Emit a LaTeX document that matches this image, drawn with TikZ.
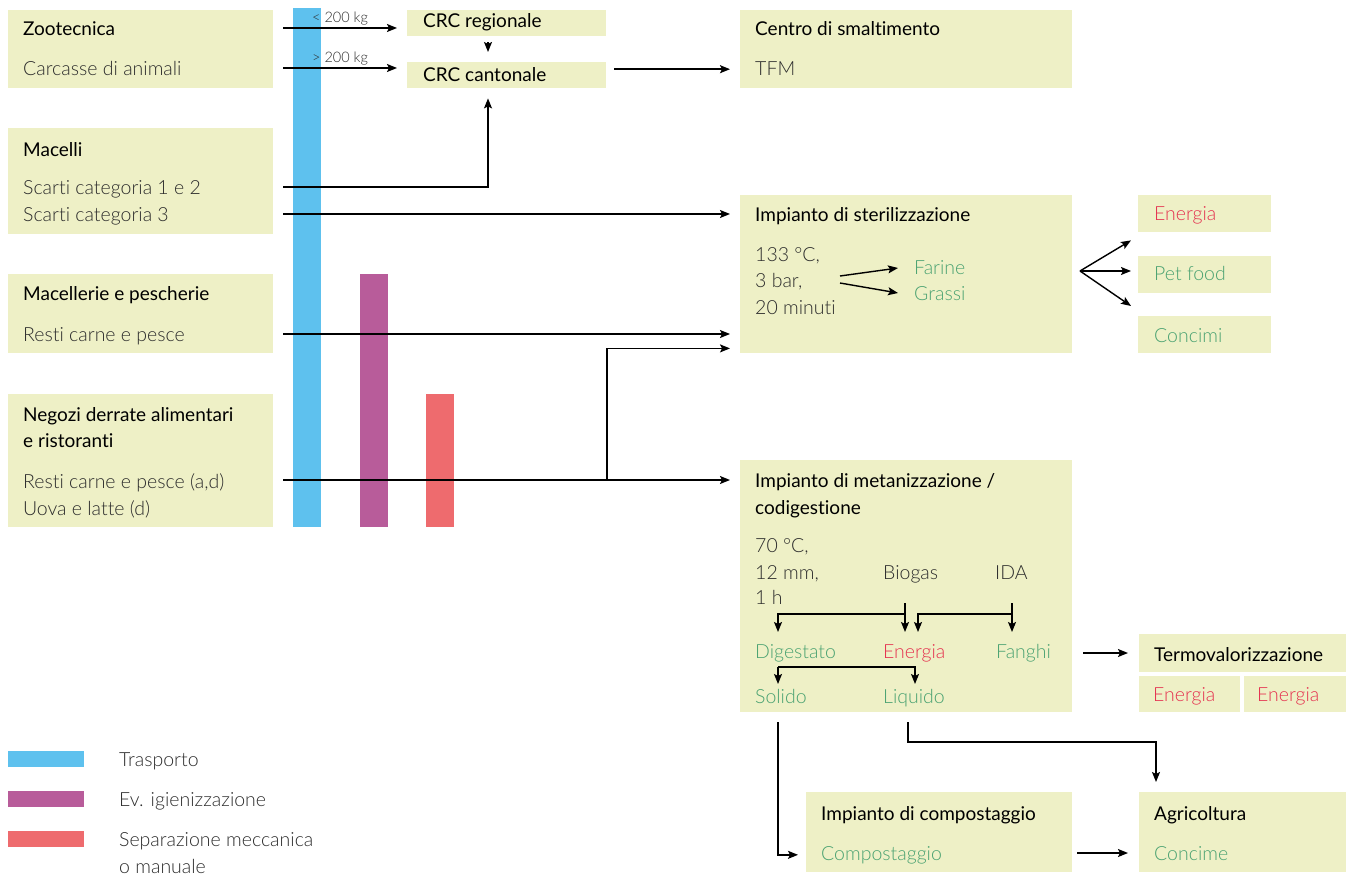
\documentclass[tikz,border=0pt]{standalone}
\usepackage{fontspec}
\setmainfont{Lato}[Ligatures=NoCommon]
\IfFontExistsTF{Lato Light}{\newfontfamily\lightlato{Lato Light}[Ligatures=NoCommon]}{\newfontfamily\lightlato{Lato}[Ligatures=NoCommon]}
\usetikzlibrary{arrows.meta}

\definecolor{boxfill}{HTML}{EEF0C6}
\definecolor{trasblue}{HTML}{5EC1EE}
\definecolor{igienpurple}{HTML}{B85C9A}
\definecolor{seppink}{HTML}{EE6B6E}
\definecolor{outgreen}{HTML}{4AA271}
\definecolor{outred}{HTML}{E5314F}
\definecolor{txtgray}{HTML}{2C2C2C}

\newcommand\bodyfont{\lightlato\fontsize{19.5}{22}\selectfont}
\newcommand\headfont{\fontsize{19}{22}\selectfont}
\newcommand\smallfont{\lightlato\fontsize{14.5}{16}\selectfont}

\begin{document}
\begin{tikzpicture}[x=1pt,y=-1pt,
  box/.style={fill=boxfill,inner sep=0pt,anchor=north west},
  txt/.style={anchor=base west,inner sep=0pt,font=\bodyfont,text=txtgray},
  head/.style={anchor=base west,inner sep=0pt,font=\headfont,text=black},
  grn/.style={txt,text=outgreen},
  rd/.style={txt,text=outred},
  small/.style={txt,font=\smallfont},
  flow/.style={-{Stealth[length=10pt,width=8pt,inset=2pt]},line width=1.4pt},
  ]
  \path[use as bounding box] (0,0) rectangle (1349,877);

  % boxes
  \node[box,minimum width=265,minimum height=78]  (zoo)     at (8,10)    {};
  \node[box,minimum width=265,minimum height=106] (mac)     at (8,128)   {};
  \node[box,minimum width=265,minimum height=79]  (mcp)     at (8,274)   {};
  \node[box,minimum width=265,minimum height=133] (neg)     at (8,394)   {};
  \node[box,minimum width=199,minimum height=26]  (crcreg)  at (407,10)  {};
  \node[box,minimum width=199,minimum height=26]  (crccan)  at (407,62)  {};
  \node[box,minimum width=332,minimum height=78]  (centro)  at (740,10)  {};
  \node[box,minimum width=332,minimum height=158] (steril)  at (740,195) {};
  \node[box,minimum width=133,minimum height=37]  (energia) at (1138,195) {};
  \node[box,minimum width=133,minimum height=37]  (petfood) at (1138,256) {};
  \node[box,minimum width=133,minimum height=37]  (concimi) at (1138,316) {};
  \node[box,minimum width=332,minimum height=252] (metan)   at (740,460) {};
  \node[box,minimum width=207,minimum height=38]  (termo)   at (1139,634) {};
  \node[box,minimum width=101,minimum height=36]  (termoA)  at (1139,676) {};
  \node[box,minimum width=102,minimum height=36]  (termoB)  at (1244,676) {};
  \node[box,minimum width=266,minimum height=80]  (compost) at (806,792) {};
  \node[box,minimum width=207,minimum height=80]  (agri)    at (1139,792) {};

  % bars
  \fill[trasblue]    (293,8)   rectangle (321,527);
  \fill[igienpurple] (360,274) rectangle (388,527);
  \fill[seppink]     (426,394) rectangle (454,527);

  % left column
  \node[head] (zooT)  at (23,36)  {Zootecnica};
  \node[txt]  (carc)  at (23,76)  {Carcasse di animali};
  \node[head] (macT)  at (23,157) {Macelli};
  \node[txt]  (sc12)  at (23,195) {Scarti categoria 1 e 2};
  \node[txt]  (sc3)   at (23,222) {Scarti categoria 3};
  \node[head] (mcpT)  at (23,301) {Macellerie e pescherie};
  \node[txt]  (resti) at (23,341) {Resti carne e pesce};
  \node[head] (negT)  at (23,421) {Negozi derrate alimentari};
  \node[head] (negT2) at (23,447) {e ristoranti};
  \node[txt]  (restiB) at (23,488) {Resti carne e pesce (a,d)};
  \node[txt]  (uova)  at (23,515) {Uova e latte (d)};

  \node[small] (lt200) at (312,23) {< 200 kg};
  \node[small] (gt200) at (312,63) {> 200 kg};

  % right part
  \node[head] (crcregT) at (423,28)  {CRC regionale};
  \node[head] (crccanT) at (423,82)  {CRC cantonale};
  \node[head] (centroT) at (755,36)  {Centro di smaltimento};
  \node[txt]  (tfm)     at (755,76)  {TFM};

  \node[head] (sterilT) at (755,222) {Impianto di sterilizzazione};
  \node[txt]  (c133)    at (755,262) {133 °C,};
  \node[txt]  (bar3)    at (755,288) {3 bar,};
  \node[txt]  (min20)   at (755,315) {20 minuti};
  \node[grn]  (farine)  at (914,275) {Farine};
  \node[grn]  (grassi)  at (914,301) {Grassi};
  \node[rd]   (energiaT) at (1154,221) {Energia};
  \node[grn]  (petfoodT) at (1154,281) {Pet food};
  \node[grn]  (concimiT) at (1154,342) {Concimi};

  \node[head] (metanT)  at (755,487) {Impianto di metanizzazione /};
  \node[head] (metanT2) at (755,514) {codigestione};
  \node[txt]  (c70)     at (755,552) {70 °C,};
  \node[txt]  (mm12)    at (755,579) {12 mm,};
  \node[txt]  (h1)      at (755,604) {1 h};
  \node[txt]  (biogas)  at (883,579) {Biogas};
  \node[txt]  (ida)     at (995,579) {IDA};
  \node[grn]  (digest)  at (755,658) {Digestato};
  \node[rd]   (energiaM) at (883,658) {Energia};
  \node[grn]  (fanghi)  at (996,658) {Fanghi};
  \node[grn]  (solido)  at (755,703) {Solido};
  \node[grn]  (liquido) at (883,703) {Liquido};

  \node[head] (termoT)  at (1154,661) {Termovalorizzazione};
  \node[rd]   (termoAT) at (1153,701) {Energia};
  \node[rd]   (termoBT) at (1257,701) {Energia};
  \node[head] (compostT) at (821,820) {Impianto di compostaggio};
  \node[grn]  (compostS) at (821,860) {Compostaggio};
  \node[head] (agriT)   at (1154,820) {Agricoltura};
  \node[grn]  (concime) at (1154,860) {Concime};

  % legend
  \foreach \y/\c/\t in {751/trasblue/Trasporto,791/igienpurple/Ev. igienizzazione,831/seppink/Separazione meccanica}{
    \fill[\c] (8,\y) rectangle (84,\y+16);
    \node[txt] (leg\y) at (119,\y+15) {\t};
  }
  \node[txt] (legman) at (119,873) {o manuale};

  % connectors
  \coordinate (zooA) at (283,28);
  \coordinate (zooB) at (283,68);
  \coordinate (macA) at (283,187);
  \coordinate (macB) at (283,214);
  \coordinate (mcpA) at (283,334);
  \coordinate (negA) at (283,480);
  \coordinate (negB) at (607,480);
  \coordinate (tfmA) at ([xshift=8pt,yshift=6pt]crccan.east);
  \draw[flow] (zooA) -- ([xshift=-10pt]crcreg.west |- zooA);
  \draw[flow] (zooB) -- ([xshift=-10pt]crccan.west |- zooB);
  \draw[flow] ([xshift=81pt,yshift=-6pt]crcreg.south west) -- ([xshift=81pt,yshift=10pt]crccan.north west);
  \draw[flow] (macA) -| ([xshift=81pt,yshift=-10pt]crccan.south west);
  \draw[flow] (macB) -- ([xshift=-10pt]steril.west |- macB);
  \draw[flow] (tfmA) -- ([xshift=-10pt]centro.west |- tfmA);
  \draw[flow] (mcpA) -- ([xshift=-10pt]steril.west |- mcpA);
  \draw[flow] (negA) -- ([xshift=-10pt]metan.west |- negA);
  \draw[flow] (negB) |- ([xshift=-10pt,yshift=5pt]steril.south west);

  \coordinate (stA) at (1080,271);
  \draw[flow] (stA) -- ([xshift=-7pt,yshift=-8pt]energia.south west);
  \draw[flow] (stA) -- ([xshift=-7pt]petfood.west |- stA);
  \draw[flow] (stA) -- ([xshift=-7pt,yshift=10pt]concimi.north west);
  \coordinate (stB) at (840,276);
  \coordinate (stC) at (840,283);
  \draw[flow] (stB) -- ([xshift=-16pt,yshift=7pt]farine.base west);
  \draw[flow] (stC) -- ([xshift=-16pt,yshift=8pt]grassi.base west);

  \coordinate (bioA) at (905,603);
  \coordinate (idaA) at (1012,603);
  \draw[flow] (bioA) -- (bioA |- 0,632);
  \draw[flow] (bioA |- 0,614) -| ([xshift=23pt,yshift=26pt]digest.base west);
  \draw[flow] (idaA) -- (idaA |- 0,632);
  \draw[flow] (idaA |- 0,614) -| ([xshift=35pt,yshift=26pt]energiaM.base west);
  \coordinate (digA) at ([xshift=23pt,yshift=-9pt]digest.base west);
  \draw[flow] (digA) -| ([xshift=32pt,yshift=19pt]liquido.base west);
  \draw[flow] (digA) -- ([xshift=23pt,yshift=19pt]solido.base west);

  \coordinate (fanA) at (1083,653);
  \draw[flow] (fanA) -- ([xshift=-11pt]termo.west |- fanA);
  \coordinate (solA) at (778,722);
  \draw[flow] (solA) |- ([xshift=-8pt]compost.west |- compostS);
  \coordinate (liqA) at (908,722);
  \draw[flow] (liqA) -- ++(0,20) -| ([xshift=17pt,yshift=10pt]agri.north west);
  \coordinate (cmpA) at (1077,853);
  \draw[flow] (cmpA) -- ([xshift=-11pt]agri.west |- cmpA);
\end{tikzpicture}
\end{document}
